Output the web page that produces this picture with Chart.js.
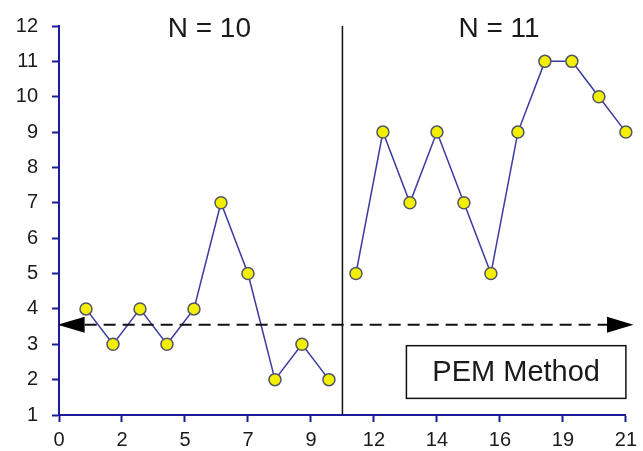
<!DOCTYPE html>
<html>
<head>
<meta charset="utf-8">
<script src="https://cdn.jsdelivr.net/npm/chart.js@4"></script>
<style>
    html, body { margin: 0; padding: 0; background: #fff; }
    #wrap { width: 643px; height: 451px; }
</style>
</head>
<body>
<div id="wrap"><canvas id="pemChart" width="643" height="451"></canvas></div>
<script>
// Data
const baselineSessions = [1, 2, 3, 4, 5, 6, 7, 8, 9, 10];
const baselineValues = [4, 3, 4, 3, 4, 7, 5, 2, 3, 2];
const treatmentSessions = [11, 12, 13, 14, 15, 16, 17, 18, 19, 20, 21];
const treatmentValues = [5, 9, 7, 9, 7, 5, 9, 11, 11, 10, 9];
const xTickLabels = ['0', '2', '5', '7', '9', '12', '14', '16', '19', '21'];
const phaseLabels = ['N = 10', 'N = 11'];
const phaseChange = 10.5;
const pemLevel = 3.55;
const boxLabel = 'PEM Method';

const FONT = "'Liberation Sans', Arial, sans-serif";
const AXIS_COLOR = '#1c1c9a';
const LINE_COLOR = '#3a3aa0';

document.addEventListener('DOMContentLoaded', function() {
    initializePemChart();
});

function toPoints(xs, ys) {
    return xs.map((x, i) => ({ x: x, y: ys[i] }));
}

// Phase line, dashed PEM line with arrows, titles and the box
const annotationsPlugin = {
    id: 'pemAnnotations',
    afterDatasetsDraw(chart) {
        const ctx = chart.ctx;
        const xs = chart.scales.x;
        const ys = chart.scales.y;

        ctx.save();

        // Phase change line
        const px = xs.getPixelForValue(phaseChange);
        ctx.strokeStyle = '#111';
        ctx.lineWidth = 1.5;
        ctx.beginPath();
        ctx.moveTo(px, ys.getPixelForValue(12));
        ctx.lineTo(px, ys.bottom);
        ctx.stroke();

        // Dashed PEM line
        const py = ys.getPixelForValue(pemLevel);
        const leftTip = xs.getPixelForValue(-0.05);
        const leftBase = xs.getPixelForValue(0.95);
        const rightBase = xs.getPixelForValue(20.3);
        const rightTip = xs.getPixelForValue(21.28);
        ctx.lineWidth = 2;
        ctx.setLineDash([12, 7]);
        ctx.beginPath();
        ctx.moveTo(leftBase, py);
        ctx.lineTo(rightBase, py);
        ctx.stroke();
        ctx.setLineDash([]);

        ctx.fillStyle = '#000';
        ctx.beginPath();
        ctx.moveTo(leftTip, py);
        ctx.lineTo(leftBase, py - 8);
        ctx.lineTo(leftBase, py + 8);
        ctx.closePath();
        ctx.fill();
        ctx.beginPath();
        ctx.moveTo(rightTip, py);
        ctx.lineTo(rightBase, py - 8);
        ctx.lineTo(rightBase, py + 8);
        ctx.closePath();
        ctx.fill();

        // Phase titles
        ctx.fillStyle = '#1a1a1a';
        ctx.font = '28px ' + FONT;
        ctx.textAlign = 'center';
        ctx.textBaseline = 'middle';
        ctx.fillText(phaseLabels[0], xs.getPixelForValue(5.57), ys.getPixelForValue(12) + 3);
        ctx.fillText(phaseLabels[1], xs.getPixelForValue(16.3), ys.getPixelForValue(12) + 3);

        // PEM Method box
        const bx1 = xs.getPixelForValue(12.87);
        const bx2 = xs.getPixelForValue(21);
        const by1 = ys.getPixelForValue(2.96);
        const by2 = ys.getPixelForValue(1.47);
        ctx.lineWidth = 1.5;
        ctx.strokeStyle = '#111';
        ctx.strokeRect(bx1, by1, bx2 - bx1, by2 - by1);
        ctx.font = '29px ' + FONT;
        ctx.fillText(boxLabel, (bx1 + bx2) / 2, (by1 + by2) / 2 + 1);

        ctx.restore();
    }
};

function initializePemChart() {
    const ctx = document.getElementById('pemChart');
    const pointStyle = {
        borderColor: LINE_COLOR,
        borderWidth: 1.5,
        pointRadius: 6,
        pointHoverRadius: 6,
        pointBackgroundColor: '#f2f000',
        pointBorderColor: '#55556a',
        pointBorderWidth: 1.5,
        tension: 0,
        fill: false,
        clip: false
    };

    new Chart(ctx, {
        type: 'line',
        data: {
            datasets: [
                Object.assign({ label: 'Baseline', data: toPoints(baselineSessions, baselineValues) }, pointStyle),
                Object.assign({ label: 'PEM', data: toPoints(treatmentSessions, treatmentValues) }, pointStyle)
            ]
        },
        options: {
            responsive: false,
            animation: false,
            layout: {
                padding: { left: 0, top: 26, right: 10, bottom: 0 }
            },
            plugins: {
                legend: { display: false },
                tooltip: { enabled: false }
            },
            scales: {
                x: {
                    type: 'linear',
                    min: 0,
                    max: 21,
                    afterBuildTicks: function(scale) {
                        scale.ticks = xTickLabels.map((l, i) => ({ value: i * 21 / (xTickLabels.length - 1) }));
                    },
                    afterFit: function(scale) {
                        scale.height = 36;
                    },
                    ticks: {
                        autoSkip: false,
                        maxRotation: 0,
                        padding: 6,
                        color: '#1a1a1a',
                        font: { family: FONT, size: 20 },
                        callback: function(value, index) {
                            return xTickLabels[index];
                        }
                    },
                    grid: {
                        display: true,
                        drawOnChartArea: false,
                        drawTicks: true,
                        tickLength: 7,
                        tickWidth: 2,
                        color: AXIS_COLOR
                    },
                    border: { display: true, color: AXIS_COLOR, width: 2 }
                },
                y: {
                    min: 1,
                    max: 12,
                    afterFit: function(scale) {
                        scale.width = 59;
                    },
                    ticks: {
                        stepSize: 1,
                        padding: 14,
                        color: '#1a1a1a',
                        font: { family: FONT, size: 20 }
                    },
                    grid: {
                        display: true,
                        drawOnChartArea: false,
                        drawTicks: true,
                        tickLength: 7,
                        tickWidth: 2,
                        color: AXIS_COLOR
                    },
                    border: { display: true, color: AXIS_COLOR, width: 2 }
                }
            }
        },
        plugins: [annotationsPlugin]
    });
}
</script>
</body>
</html>
